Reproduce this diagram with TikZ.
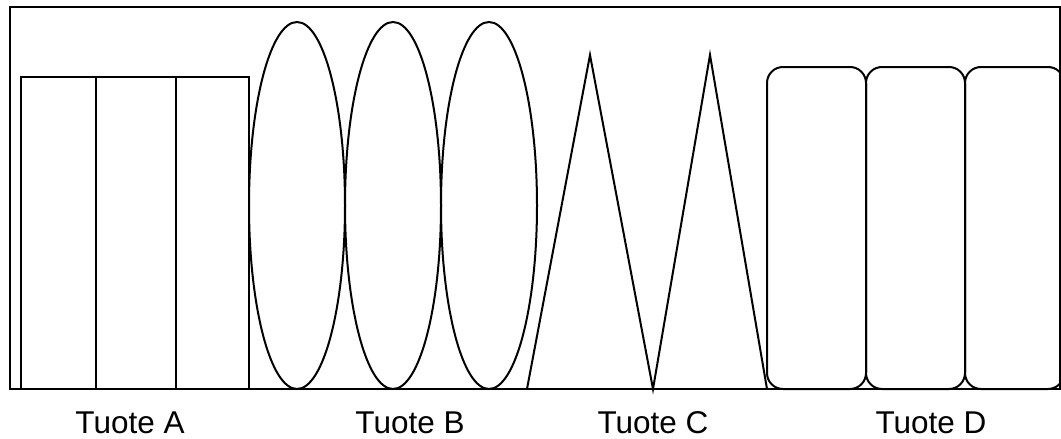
\documentclass[tikz,border=0pt]{standalone}
\usepackage{fontspec}
\setmainfont{Liberation Sans}
\begin{document}
\begin{tikzpicture}[x=1pt,y=-1pt,
  shapeline/.style={draw=black,line width=2pt},
  lbl/.style={font=\fontsize{31.5}{36}\selectfont,anchor=base,inner sep=0pt}]
\useasboundingbox (0,0) rectangle (1061,439);
\begin{scope}
\clip (0,0) rectangle (1061,439);
% outer frame
\draw[shapeline] (9.5,7) rectangle (1060,389);
% Tuote A
\draw[shapeline] (21,77) rectangle (96,389);
\draw[shapeline] (96,77) rectangle (176,389);
\draw[shapeline] (176,77) rectangle (249,389);
% Tuote B
\draw[shapeline] (297,205.5) ellipse [x radius=48,y radius=183.5];
\draw[shapeline] (393,205.5) ellipse [x radius=48,y radius=183.5];
\draw[shapeline] (489,205.5) ellipse [x radius=48,y radius=183.5];
% Tuote C
\draw[shapeline,line join=miter] (527,389) -- (590,55) -- (653,389) -- (710,55) -- (767,389);
% Tuote D
\draw[shapeline,rounded corners=16pt] (767,67) rectangle (866,389);
\draw[shapeline,rounded corners=16pt] (866,67) rectangle (965,389);
\draw[shapeline,rounded corners=16pt] (965,67) rectangle (1064,389);
\end{scope}
\node[lbl] (la) at (130,433) {Tuote A};
\node[lbl] (lb) at (410,433) {Tuote B};
\node[lbl] (lc) at (653,433) {Tuote C};
\node[lbl] (ld) at (931,433) {Tuote D};
\end{tikzpicture}
\end{document}
